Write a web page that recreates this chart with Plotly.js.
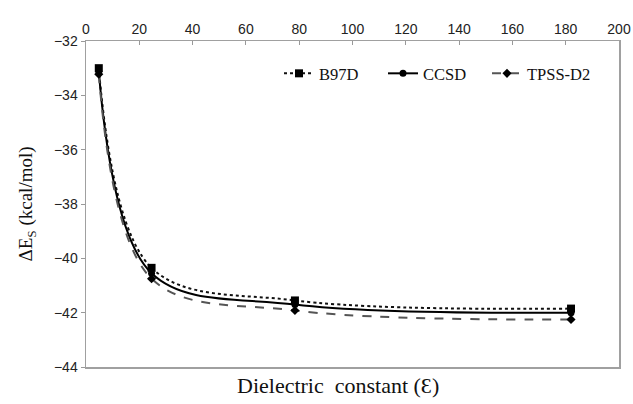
<!DOCTYPE html>
<html>
<head>
<meta charset="utf-8">
<script src="https://cdn.plot.ly/plotly-3.0.1.min.js"></script>
<style>html,body{margin:0;padding:0;background:#fff;}#chart{width:633px;height:404px;}</style>
</head>
<body>
<div id="chart"></div>
<script>
const dielectric = [4.8, 24.6, 78.4, 182.0];
const b97d = [-33.0, -40.35, -41.55, -41.85];
const ccsd = [-33.12, -40.55, -41.7, -42.0];
const tpssD2 = [-33.22, -40.75, -41.92, -42.25];
const seriesNames = ["B97D", "CCSD", "TPSS-D2"];
const xTicks = [0, 20, 40, 60, 80, 100, 120, 140, 160, 180, 200];
const yTicks = [-44, -42, -40, -38, -36, -34, -32];

const serif = "Liberation Serif, Times New Roman, serif";
const sans = "Liberation Sans, Arial, sans-serif";

const traces = [
  {x: dielectric, y: b97d, name: seriesNames[0], mode: "lines+markers", legend: "legend",
   line: {color: "#111", width: 2, dash: "dot", shape: "spline", smoothing: 1},
   marker: {symbol: "square", size: 8, color: "#000"}},
  {x: dielectric, y: ccsd, name: seriesNames[1], mode: "lines+markers", legend: "legend2",
   line: {color: "#000", width: 2, shape: "spline", smoothing: 1},
   marker: {symbol: "circle", size: 7, color: "#000"}},
  {x: dielectric, y: tpssD2, name: seriesNames[2], mode: "lines+markers", legend: "legend3",
   line: {color: "#555", width: 2, dash: "dash", shape: "spline", smoothing: 1},
   marker: {symbol: "diamond", size: 7, color: "#000"}}
];

function leg(px) {
  return {orientation: "h", x: (px - 86) / 533, xanchor: "left", y: 0.9, yanchor: "middle",
    font: {family: serif, size: 16.5, color: "#111"}, bgcolor: "rgba(0,0,0,0)"};
}

const layout = {
  width: 633, height: 404,
  margin: {l: 86, r: 14, t: 41, b: 37},
  paper_bgcolor: "#fff", plot_bgcolor: "#fff",
  showlegend: true,
  legend: leg(279), legend2: leg(383), legend3: leg(487),
  xaxis: {range: [0, 200], side: "top", tickvals: xTicks, ticks: "inside", ticklen: 4,
    tickcolor: "#999", showline: true, linecolor: "#a0a0a0", linewidth: 1.5, mirror: true,
    showgrid: false, zeroline: false, tickfont: {family: sans, size: 14, color: "#222"}},
  yaxis: {range: [-44, -32], tickvals: yTicks, ticks: "outside", ticklen: 4,
    tickcolor: "#999", showline: true, linecolor: "#a0a0a0", linewidth: 1.5, mirror: true,
    showgrid: false, zeroline: false, tickfont: {family: sans, size: 14, color: "#222"},
    title: {text: "ΔE<sub>S</sub> (kcal/mol)", standoff: 16, font: {family: serif, size: 19, color: "#111"}}},
  annotations: [{text: "Dielectric\u00a0 constant (Ɛ)", xref: "paper", yref: "paper",
    x: (338 - 86) / 533, y: -0.012, xanchor: "center", yanchor: "top", showarrow: false,
    font: {family: serif, size: 22, color: "#111"}}]
};

Plotly.newPlot("chart", traces, layout, {displayModeBar: false, staticPlot: true});
</script>
</body>
</html>
